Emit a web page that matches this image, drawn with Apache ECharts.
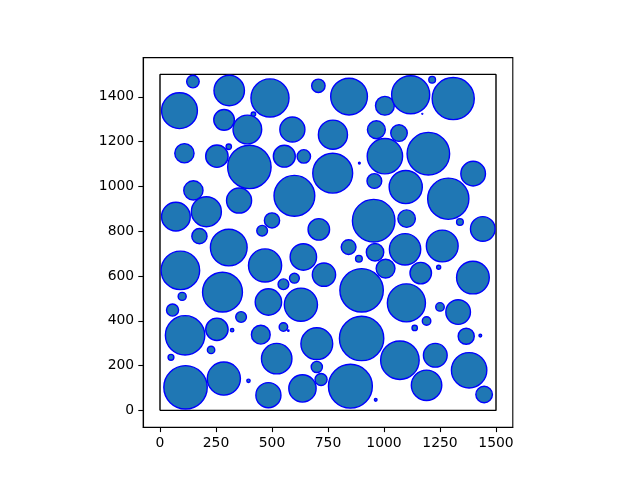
<!DOCTYPE html>
<html>
<head>
<meta charset="utf-8">
<script src="https://cdn.jsdelivr.net/npm/echarts@6/dist/echarts.min.js"></script>
<style>html,body{margin:0;padding:0;background:#fff}#c{width:640px;height:480px}</style>
</head>
<body>
<div id="c"></div>
<script>
// circle centers and radii (data units)
const xs = [147,309,87,286,417,390,109,254,307,399,491,707,844,1004,591,772,966,555,642,890,1119,1215,1309,1171,1067,1198,1004,149,71,207,353,176,307,456,91,279,99,771,600,957,954,500,709,842,888,960,1007,640,600,551,732,469,1097,1398,1287,1101,1339,1441,1094,1260,1244,1164,1397,56,112,254,362,322,228,49,114,285,395,450,629,484,900,551,573,700,900,521,700,719,636,850,484,963,1100,1250,1331,1190,1137,1367,1430,1071,1229,1380,1190,1447];
const ys = [1468,1428,1338,1297,1322,1254,1148,1135,1177,1087,1395,1449,1401,1360,1254,1231,1253,1135,1134,1104,1409,1476,1392,1324,1238,1146,1135,982,865,887,937,778,727,802,625,528,509,1059,958,1024,847,848,808,729,677,706,633,685,590,563,606,647,997,1057,945,856,841,810,719,734,639,613,593,448,335,362,417,358,270,237,103,142,132,338,472,484,536,372,356,298,321,231,194,138,98,108,68,47,480,462,439,399,368,331,334,224,246,179,112,71];
const rs = [28,68,80,46,10,64,43,50,12,97,85,30,82,42,56,65,40,49,30,4,85,15,94,2,37,95,79,43,64,67,56,34,82,24,86,89,18,89,91,33,95,34,48,33,15,39,42,59,22,24,52,74,74,55,92,39,15,55,70,71,9,48,73,27,88,50,24,7.5,16.5,13,97,74,7.5,42,74,59,97,19,3,71,99,68,25,27,61,98,56,6,85,19,55,19,12,36,6,86,53,79,68,37];
// bounding square
const boxX = [0,1500,1500,0,0];
const boxY = [0,0,1500,1500,0];
const xTicks = [0,250,500,750,1000,1250,1500];
const yTicks = [0,200,400,600,800,1000,1200,1400];

const circles = xs.map((x,i)=>[x, ys[i], rs[i]]);
const box = boxX.map((x,i)=>[x, boxY[i]]);

const chart = echarts.init(document.getElementById('c'), null, {renderer:'canvas'});
const font = {fontFamily:'DejaVu Sans', fontSize:13.9, color:'#000', formatter:(v)=>String(v)};
chart.setOption({
  animation:false,
  backgroundColor:'#fff',
  grid:{left:143.2, top:57.6, width:369.6, height:369.6, show:true, borderColor:'#000', borderWidth:1.1, containLabel:false},
  xAxis:{type:'value', min:-75, max:1575,
    axisLine:{show:true, onZero:false, lineStyle:{color:'#000', width:1.1}},
    axisTick:{show:true, inside:false, length:4.9, lineStyle:{color:'#000', width:1.1}, customValues:xTicks},
    axisLabel:Object.assign({margin:9, customValues:xTicks}, font),
    splitLine:{show:false}},
  yAxis:{type:'value', min:-75, max:1575,
    axisLine:{show:true, onZero:false, lineStyle:{color:'#000', width:1.1}},
    axisTick:{show:true, inside:false, length:4.9, lineStyle:{color:'#000', width:1.1}, customValues:yTicks},
    axisLabel:Object.assign({margin:9, customValues:yTicks}, font),
    splitLine:{show:false}},
  series:[
    {type:'line', data:box, symbol:'none', lineStyle:{color:'#000', width:1.4}, z:1, silent:true},
    {type:'custom', data:circles, z:2, silent:true,
     renderItem:(params, api)=>{
       const c = api.coord([api.value(0), api.value(1)]);
       const s = api.size([api.value(2), api.value(2)]);
       return {type:'circle', shape:{cx:c[0], cy:c[1], r:s[0]},
               style:{fill:'#1f77b4', stroke:'#0000ff', lineWidth:1.4}};
     }}
  ]
});
</script>
</body>
</html>
